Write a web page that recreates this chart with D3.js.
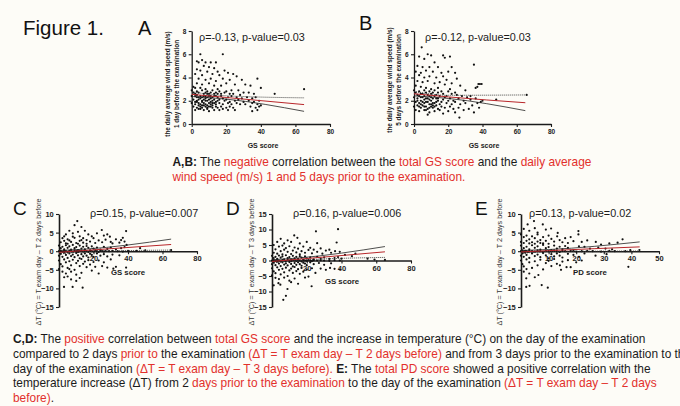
<!DOCTYPE html>
<html>
<head>
<meta charset="utf-8">
<script src="https://cdn.jsdelivr.net/npm/d3@7"></script>
<style>
  body { margin: 0; background: #fdfcf7; }
  svg { display: block; font-family: "Liberation Sans", Arial, sans-serif; }
</style>
</head>
<body>
<script>
// ---- data ----
// panel A: GS score vs wind speed 1 day before
var ptsA = [[5,6.0],[18,6.0],[3,5.4],[4,5.3],[6,5.5],[8,5.3],[11,5.3],[14,5.3],[7,5.0],[10,4.9],[13,4.8],[3,4.7],[5,4.6],[9,4.5],[15,4.5],[19,4.6],[21,4.4],[2,4.3],[6,4.2],[12,4.3],[16,4.2],[24,4.3],[26,4.1],[4,3.9],[8,3.8],[11,3.9],[14,3.7],[18,3.9],[22,3.8],[29,3.8],[38,3.9],[3,3.5],[6,3.4],[10,3.5],[13,3.3],[17,3.3],[20,3.5],[25,3.4],[31,3.4],[34,3.3],[40,3.1],[1,3.2],[2,3.1],[5,3.1],[8,3.0],[15,3.0],[23,2.9],[27,2.9],[33,2.7],[48,2.6],[65,3.0],[36,2.6],[30,2.7],
  [0,2.9],[3,2.8],[6,2.9],[9,2.8],[12,2.9],[16,2.8],[20,2.8],
  [1,2.7],[2,2.6],[4,2.7],[7,2.6],[8,2.7],[10,2.6],[11,2.7],[13,2.6],[14,2.7],[17,2.6],[19,2.7],[22,2.6],[24,2.6],[28,2.5],
  [0,2.4],[2,2.4],[3,2.3],[5,2.4],[6,2.3],[8,2.4],[9,2.3],[11,2.4],[12,2.3],[14,2.4],[15,2.3],[17,2.4],[18,2.2],[21,2.3],[23,2.4],[26,2.3],[29,2.2],[32,2.3],[35,2.2],[37,2.3],
  [1,2.1],[3,2.0],[4,2.1],[6,2.0],[7,2.1],[9,2.0],[10,2.1],[12,2.0],[13,2.1],[15,2.0],[16,2.1],[19,2.0],[20,2.1],[22,1.9],[25,2.0],[27,2.1],[30,1.9],[33,2.0],[36,1.9],[39,2.0],
  [0,1.8],[2,1.7],[4,1.8],[5,1.7],[7,1.8],[8,1.7],[10,1.8],[11,1.7],[13,1.8],[14,1.7],[16,1.8],[18,1.7],[21,1.8],[23,1.7],[26,1.8],[28,1.7],[31,1.7],[35,1.8],[38,1.7],[40,1.6],
  [1,1.5],[3,1.4],[5,1.5],[6,1.4],[8,1.5],[9,1.4],[11,1.5],[12,1.4],[14,1.5],[15,1.4],[17,1.5],[20,1.4],[22,1.5],[24,1.4],[34,1.5],[37,1.4],[39,1.5],
  [2,1.2],[4,1.3],[7,1.2],[9,1.3],[10,1.1],[13,1.2],[16,1.2],[18,1.3],[21,1.2],[25,1.2],[35,1.1],[38,1.2],
  [2,1.9],[3,2.5],[4,1.6],[5,2.2],[6,1.9],[7,2.4],[8,2.0],[9,1.6],[10,2.4],[11,1.9],[12,1.6],[13,2.4],[3,1.9],[5,1.3],[7,1.6],[9,2.6],[11,2.2],[12,1.8],[6,1.6],[8,2.2],[10,1.5],[4,2.3],[14,1.9],[15,2.6]];

// panel B: GS score vs wind speed 5 days before
var ptsB = [[4.5,6.6],[8,6.0],[10,5.9],[17,5.9],[18,5.7],[21,5.8],[35,5.1],[3,5.8],[6,5.6],[12,5.3],[2,5.0],[5,4.9],[9,4.9],[14,4.9],[22,4.9],[1,4.5],[4,4.4],[7,4.6],[11,4.5],[16,4.4],[20,4.5],[24,4.4],[3,4.2],[6,4.0],[9,4.1],[13,4.0],[17,4.1],[19,3.8],[25,3.9],[2,3.7],[5,3.6],[8,3.7],[12,3.5],[15,3.6],[18,3.4],[22,3.5],[27,3.3],[37.6,3.44],[38.5,3.44],[39.5,3.44],[37,3.2],[36,3.1],[1,3.3],[4,3.2],[7,3.1],[10,3.0],[14,3.1],[21,3.0],[30,2.9],[65.8,2.5],[48,2.1],[26.5,0.55],[33,2.4],[40,2.0],
  [0,2.9],[3,2.8],[6,2.9],[9,2.8],[12,2.9],[16,2.8],[20,2.8],[24,2.7],
  [1,2.7],[2,2.5],[4,2.6],[7,2.7],[8,2.5],[10,2.6],[11,2.7],[13,2.5],[14,2.7],[17,2.6],[19,2.4],[22,2.6],[25,2.5],[28,2.4],[31,2.3],
  [0,2.3],[2,2.2],[3,2.4],[5,2.3],[6,2.1],[8,2.2],[9,2.4],[11,2.2],[12,2.4],[14,2.2],[15,2.4],[17,2.1],[18,2.3],[21,2.2],[23,2.0],[26,2.2],[29,2.0],[33,2.1],[36,2.2],[39,1.9],
  [1,1.9],[3,1.8],[4,2.0],[6,1.8],[7,1.9],[9,1.7],[10,2.0],[12,1.8],[13,1.9],[15,1.7],[16,1.9],[19,1.8],[20,2.0],[22,1.7],[24,1.9],[27,1.7],[30,1.8],[34,1.6],[37,1.8],
  [0,1.5],[2,1.6],[4,1.4],[5,1.6],[7,1.5],[8,1.3],[10,1.5],[11,1.4],[13,1.6],[14,1.3],[16,1.5],[18,1.4],[21,1.5],[23,1.3],[26,1.4],[29,1.2],[32,1.3],[35,1.0],[38,1.4],
  [1,1.2],[3,1.1],[6,1.2],[9,1.0],[12,1.1],[15,1.2],[17,0.9],[20,1.1],[24,1.0],[8,0.8],
  [2,2.0],[3,1.5],[4,2.3],[5,1.9],[6,1.5],[7,2.2],[8,1.9],[9,1.4],[10,2.3],[11,1.8],[12,1.5],[13,2.2],[5,2.6],[7,1.2],[9,2.1],[11,1.6],[14,2.0],[4,1.7],[6,2.4],[10,1.7]];

// panel C: GS score vs dT (exam day - 2 days before)
var ptsC = [[10.6,8.1],[9,7.0],[13,6.5],[4,4.5],[6,5.5],[8,4.8],[11,5.2],[12,4.0],[15,5.5],[17,4.5],[14,3.5],[24.8,5.7],[22,4.8],[26,4.2],[29.5,3.9],[33,3.2],[36,3.0],[38.9,5.4],[37,3.6],[39.2,1.7],[2,3.5],[3,2.8],[5,3.2],[7,2.5],[9,3.6],[10,2.2],[12,2.8],[14,2.3],[16,3.0],[18,2.6],[20,3.5],[21,2.2],[23,2.9],[25,2.4],[27,3.1],[30,2.5],[31,2.1],[35,2.3],[38,2.6],[1,2.4],[4,2.1],[6,2.9],[8,3.9],[11,2.0],[13,3.0],[19,4.0],[28,4.5],[3,4.0],[5,2.0],[16,2.0],
  [0,1.5],[1,0.8],[2,1.2],[3,0.5],[4,1.6],[5,0.9],[6,1.3],[7,0.4],[8,1.7],[9,0.8],[10,1.1],[11,0.3],[12,1.5],[13,0.7],[14,1.2],[15,0.5],[16,1.4],[17,0.9],[18,0.2],[19,1.3],[20,0.7],[22,1.0],[24,0.4],[26,1.2],[28,0.6],[30,1.0],[33,0.5],[36,0.8],[38,1.1],
  [0,0],[1,0.1],[2,-0.1],[3,0.2],[4,0],[5,-0.2],[6,0.1],[7,0],[8,-0.1],[9,0.2],[10,0],[11,-0.2],[12,0.1],[13,0],[14,-0.1],[15,0.2],[16,0],[17,-0.2],[18,0.1],[19,0],[20,-0.1],[21,0.2],[22,0],[23,-0.2],[24,0.1],[25,0],[26,-0.1],[27,0.1],[29,0],[31,0.1],[34,0],[37,-0.1],[40,0.1],[47,0.8],[65,0.3],[45,0.1],[50,0.2],
  [0,-1.2],[1,-0.7],[2,-1.5],[3,-0.4],[4,-1.0],[5,-1.8],[6,-0.6],[7,-1.3],[8,-0.9],[9,-1.6],[10,-0.5],[11,-1.1],[12,-1.9],[13,-0.8],[14,-1.4],[15,-0.6],[16,-1.2],[17,-1.7],[18,-0.7],[19,-1.0],[20,-1.5],[22,-0.6],[24,-1.2],[26,-0.8],[28,-1.4],[31,-0.9],[35,-1.1],
  [0,-2.5],[1,-3.5],[2,-4.1],[3,-2.2],[4,-3.0],[5,-4.5],[6,-2.7],[7,-3.8],[8,-2.3],[9,-5.0],[10,-3.2],[11,-2.6],[12,-4.0],[13,-2.1],[14,-3.4],[15,-2.8],[16,-4.3],[17,-2.4],[18,-3.6],[20,-2.9],[21,-4.2],[23,-2.5],[25,-4.0],[26,-3.0],[28,-4.4],[31.5,-4.7],[33,-4.2],[38.9,-4.4],[30,-2.2],[2,-5.5],[4,-6.0],[7,-5.5],[10,-6.3],[13,-5.8],[19,-5.2],[23,-6.0],[0,-4.8],[6,-4.8],
  [7,-7.6],[3,-7.0],[10,-8.0],[2.9,-9.6],[7.9,-9.6],[13.7,-9.8],[5,-6.8],[12,-7.2]];

// panel D: GS score vs dT (exam day - 3 days before)
var ptsD = [[38,10.1],[25.3,9.4],[12.8,8.1],[14.6,7.3],[5,7.0],[9,6.5],[3,6.0],[7,5.5],[11,6.0],[16,5.5],[20,6.0],[26,5.6],[37.2,5.8],[36.3,3.0],[1,5.0],[4,4.5],[6,4.8],[8,4.0],[10,4.6],[13,4.2],[15,3.8],[18,4.5],[22,4.1],[24,3.5],[28,3.9],[31,3.2],[34,2.5],[39,2.8],[2,3.6],[5,3.0],[7,3.5],[9,2.8],[12,3.2],[14,2.6],[17,3.0],[19,2.5],[21,3.4],[23,2.3],[26,2.8],[29,2.2],[33,3.5],[1,2.5],[3,2.2],[6,2.0],[11,2.1],[16,2.0],[46,1.4],[42,1.8],[48,2.2],[55,0.6],[59,0.3],[65,0.2],
  [0,1.5],[1,0.8],[2,1.2],[3,0.5],[4,1.6],[5,0.9],[6,1.3],[7,0.4],[8,1.7],[9,0.8],[10,1.1],[11,0.3],[12,1.5],[13,0.7],[14,1.2],[15,0.5],[16,1.4],[17,0.9],[18,0.2],[19,1.3],[20,0.7],[22,1.0],[24,0.4],[26,1.2],[28,0.6],[30,1.0],[33,0.5],[36,0.8],[38,1.1],[40,0.6],
  [0,0],[1,0.1],[2,-0.2],[3,0.2],[4,0],[5,-0.3],[6,0.1],[7,0],[8,-0.2],[9,0.3],[10,0],[11,-0.2],[12,0.1],[13,0],[14,-0.1],[15,0.2],[16,0],[17,-0.3],[18,0.1],[19,0],[20,-0.1],[21,0.2],[22,0],[23,-0.2],[24,0.1],[26,0],[28,0.1],[30,0],[33,-0.1],[36,0.1],[39,0],
  [0,-1.2],[1,-0.7],[2,-1.5],[3,-0.4],[4,-1.0],[5,-1.8],[6,-0.6],[7,-1.3],[8,-0.9],[9,-1.6],[10,-0.5],[11,-1.1],[12,-1.9],[13,-0.8],[14,-1.4],[15,-0.6],[16,-1.2],[17,-1.7],[18,-0.7],[19,-1.0],[20,-1.5],[22,-0.6],[24,-1.2],[27,-0.8],[30,-1.4],[34,-0.9],
  [0,-2.5],[1,-3.5],[2,-4.1],[3,-2.2],[4,-3.0],[5,-4.5],[6,-2.7],[7,-3.8],[8,-2.3],[9,-5.0],[10,-3.2],[11,-2.6],[12,-4.0],[13,-2.1],[14,-3.4],[15,-2.8],[16,-4.3],[17,-2.4],[18,-3.6],[20,-2.9],[21,-5.2],[23,-2.5],[25,-4.0],[28,-2.6],[31,-3.0],[33.4,-2.4],[39,-2.9],[36,-2.7],[2,-5.6],[4,-6.0],[7,-5.5],[10,-6.5],[13,-5.8],[19,-5.5],[0,-4.8],
  [3.7,-7.3],[4.8,-7.8],[1,-8.0],[8.9,-9.2],[8,-11.4],[6.5,-12.7],[22.8,-8.3],[11,-7.0],[15,-7.5]];

// panel E: PD score vs dT (exam day - 2 days before)
var ptsE = [[4.7,8.1],[2.4,7.2],[7.9,7.2],[1,6.0],[3,5.5],[5,6.2],[6,5.0],[9,5.8],[10.9,6.1],[13.3,4.9],[13.1,4.0],[20.8,5.4],[20.8,4.5],[27.1,2.5],[36.8,3.2],[32,2.1],[0,4.5],[1,3.8],[2,4.2],[3,3.2],[4,4.0],[5,3.5],[6,4.5],[7,3.0],[8,3.8],[9,2.8],[10,4.2],[11,3.3],[12,2.6],[14,3.0],[15,2.4],[16,3.5],[17,2.2],[18,3.8],[19,2.7],[22,2.5],[24,2.9],[0,2.5],[1,2.2],[2,2.8],[3,2.1],[4,2.4],[5,2.0],[6,2.6],[7,2.2],[8,2.1],[10,2.0],[29,1.8],[35,2.3],
  [0,1.5],[1,0.8],[2,1.2],[3,0.5],[4,1.6],[5,0.9],[6,1.3],[7,0.4],[8,1.7],[9,0.8],[10,1.1],[11,0.3],[12,1.5],[13,0.7],[14,1.2],[15,0.5],[16,1.4],[17,0.9],[19,0.2],[21,1.3],[23,1.2],[25,0.7],[28,1.0],[30.6,0.7],[33,0.5],
  [0,0],[0.5,0.2],[1,-0.1],[1.5,0.1],[2,0],[2.5,-0.2],[3,0.1],[4,0],[5,-0.1],[6,0.2],[7,0],[8,-0.2],[9,0.1],[10,0],[11,-0.1],[12,0.2],[13,0],[14,-0.2],[15,0.1],[16,0],[18,0.1],[20,-0.1],[22,0],[24,0.1],[26,0],[29,-0.1],[32,0.1],[34,0],[37.8,0],[39.6,0.3],[42.9,0.3],
  [0,-1.2],[0.5,-0.6],[1,-1.5],[1.5,-0.4],[2,-1.0],[3,-1.8],[4,-0.6],[5,-1.3],[6,-0.9],[7,-1.6],[8,-0.5],[9,-1.1],[10,-1.9],[11,-0.8],[12,-1.4],[13,-0.6],[14,-1.2],[15,-1.7],[17,-0.7],[19,-1.0],[21,-1.5],[23,-0.6],[27,-1.2],[31,-0.8],
  [0,-2.5],[0.5,-3.5],[1,-4.1],[2,-2.2],[3,-3.0],[4,-4.5],[5,-2.7],[6,-3.8],[7,-2.3],[8,-4.9],[9,-3.2],[10,-2.6],[11,-4.0],[12,-2.1],[13,-3.4],[14.1,-3.8],[14.5,-5.0],[16.5,-4.3],[18,-4.3],[15,-2.8],[17,-2.4],[20,-3.0],[22,-2.5],[38.9,-4.2],[1,-5.5],[3,-6.0],[6.3,-6.4],[2,-4.8],
  [1.9,-7.3],[1.9,-9.6],[3.1,-9.3],[7.5,-9.1],[9.7,-9.8],[5,-7.0]];

// regression line with 95% band: [x, fit, lower, upper]
var fitA = [[0, 2.55, 2.36, 2.76], [20, 2.28, 2.14, 2.43], [65, 1.67, 1.09, 2.25]];
var fitB = [[0, 2.6, 2.42, 2.8], [20, 2.33, 2.2, 2.47], [65, 1.83, 1.15, 2.5]];
var fitC = [[0, -0.3, -0.8, 0.22], [15, 0.2, -0.12, 0.55], [65, 1.8, 0.3, 3.25]];
var fitD = [[0, -0.3, -0.85, 0.25], [15, 0.4, 0.05, 0.8], [65, 2.8, 1.0, 4.5]];
var fitE = [[0, -0.2, -0.6, 0.2], [10, 0.15, -0.1, 0.45], [43, 1.16, 0.05, 2.5]];

var ticksGS = [0, 20, 40, 60, 80];
var ticksPD = [0, 10, 20, 30, 40, 50];
var ticksWind = [0, 2, 4, 6, 8];
var ticksT10 = [-15, -10, -5, 0, 5, 10];
var ticksT15 = [-15, -10, -5, 0, 5, 10, 15];

var RED = "#e2302c", INK = "#1b1b1b";

var svg = d3.select("body").append("svg").attr("width", 680).attr("height", 406);
svg.append("rect").attr("width", 680).attr("height", 406).attr("fill", "#fdfcf7");

function panel(o) {
  var x = d3.scaleLinear().domain(o.xd).range(o.xr);
  var y = d3.scaleLinear().domain(o.yd).range(o.yr);
  var g = svg.append("g");

  var xa = g.append("g").attr("transform", "translate(0," + y(0) + ")")
    .call(d3.axisBottom(x).tickValues(o.xt).tickSize(3).tickSizeOuter(0)
      .tickFormat(function(d) { return (o.hideZero && d === 0) ? "" : d; }));
  var ya = g.append("g").attr("transform", "translate(" + x(0) + ",0)")
    .call(d3.axisLeft(y).tickValues(o.yt).tickSize(3).tickSizeOuter(0));
  [xa, ya].forEach(function(a) {
    a.select(".domain").attr("stroke", INK).attr("stroke-width", o.aw);
    a.selectAll(".tick line").attr("stroke", INK).attr("stroke-width", 1.1);
    a.selectAll("text").attr("font-size", o.tf).attr("font-weight", "bold")
      .attr("fill", INK).attr("font-family", "Liberation Sans, Arial, sans-serif");
  });
  xa.selectAll("text").attr("dy", "0.55em");
  ya.selectAll("text").attr("dx", "0.1em");

  g.append("g").selectAll("circle").data(o.pts).enter().append("circle")
    .attr("cx", function(d) { return x(d[0]); })
    .attr("cy", function(d) { return y(d[1]); })
    .attr("r", 1.1).attr("fill", "#111");

  function band(i) {
    return d3.line().curve(d3.curveMonotoneX)
      .x(function(d) { return x(d[0]); }).y(function(d) { return y(d[i]); })(o.fit);
  }
  g.append("path").attr("d", band(o.dotted === "hi" ? 2 : 3)).attr("fill", "none")
    .attr("stroke", "#222").attr("stroke-width", 0.8);
  g.append("path").attr("d", band(o.dotted === "hi" ? 3 : 2)).attr("fill", "none")
    .attr("stroke", "#333").attr("stroke-width", 0.9).attr("stroke-dasharray", "1,1");
  g.append("path").attr("d", band(1)).attr("fill", "none")
    .attr("stroke", "#b8262a").attr("stroke-width", 1);

  g.append("text").attr("x", o.xlab[0]).attr("y", o.xlab[1]).attr("text-anchor", "middle")
    .attr("font-size", o.lf).attr("font-weight", "bold").attr("fill", INK).text(o.xtitle);

  o.ytitle.forEach(function(t, i) {
    g.append("text")
      .attr("transform", "translate(" + (o.ylab[0] + i * 9) + "," + o.ylab[1] + ") rotate(-90)")
      .attr("text-anchor", "middle").attr("dominant-baseline", "central")
      .attr("font-size", o.yf).attr("font-weight", o.yw).attr("fill", o.yc).text(t);
  });

  g.append("text").attr("x", o.note[0]).attr("y", o.note[1]).attr("font-size", 10.8)
    .attr("fill", INK).text(o.noteText);
  g.append("text").attr("x", o.letter[0]).attr("y", o.letter[1]).attr("font-size", o.letterSize)
    .attr("fill", "#111").text(o.letterText);
}

svg.append("text").attr("x", 23).attr("y", 35).attr("font-size", 20.5).attr("fill", "#111").text("Figure 1.");

var windTitle1 = "the daily average wind speed (m/s)";
panel({ pts: ptsA, fit: fitA, dotted: "hi", aw: 1.3, xd: [0, 80], xr: [191.7, 330], yd: [0, 8], yr: [124, 31],
  xt: ticksGS, yt: ticksWind, tf: 6.5, lf: 7, xtitle: "GS score", xlab: [263, 147.5],
  ytitle: [windTitle1, "1 day before the examination"], ylab: [167, 84], yf: 6.4, yw: "bold", yc: INK,
  note: [199, 40.5], noteText: "\u03c1=-0.13, p-value=0.03", letter: [138, 35], letterText: "A", letterSize: 20 });
panel({ pts: ptsB, fit: fitB, dotted: "hi", aw: 1.3, xd: [0, 80], xr: [414, 551], yd: [0, 8], yr: [124, 31],
  xt: ticksGS, yt: ticksWind, tf: 6.5, lf: 7, xtitle: "GS score", xlab: [484, 147.5],
  ytitle: [windTitle1, "5 days before the examination"], ylab: [389.5, 80], yf: 6.4, yw: "bold", yc: INK,
  note: [425, 40.5], noteText: "\u03c1=-0.12, p-value=0.03", letter: [359, 30], letterText: "B", letterSize: 20 });
panel({ pts: ptsC, fit: fitC, dotted: "lo", aw: 1.6, hideZero: true, xd: [0, 80], xr: [59, 197], yd: [-15, 10], yr: [307, 214],
  xt: ticksGS, yt: ticksT10, tf: 7.5, lf: 7.8, xtitle: "GS score", xlab: [128, 275],
  ytitle: ["\u0394T (\u00b0C) = T exam day \u2013 T 2 days before"], ylab: [38, 262], yf: 7.2, yw: "normal", yc: "#333",
  note: [90, 216.5], noteText: "\u03c1=0.15, p-value=0.007", letter: [13, 215], letterText: "C", letterSize: 19 });
panel({ pts: ptsD, fit: fitD, dotted: "lo", aw: 1.6, hideZero: true, xd: [0, 80], xr: [272, 411], yd: [-15, 15], yr: [307, 214],
  xt: ticksGS, yt: ticksT15, tf: 7.5, lf: 7.8, xtitle: "GS score", xlab: [342, 284],
  ytitle: ["\u0394T (\u00b0C) = T exam day \u2013 T 3 days before"], ylab: [251, 262], yf: 7.2, yw: "normal", yc: "#333",
  note: [293, 216.5], noteText: "\u03c1=0.16, p-value=0.006", letter: [226, 215], letterText: "D", letterSize: 19 });
panel({ pts: ptsE, fit: fitE, dotted: "lo", aw: 1.6, hideZero: true, xd: [0, 50], xr: [521, 659], yd: [-15, 10], yr: [307, 214],
  xt: ticksPD, yt: ticksT10, tf: 7.5, lf: 7.8, xtitle: "PD score", xlab: [590, 275],
  ytitle: ["\u0394T (\u00b0C) = T exam day \u2013 T 2 days before"], ylab: [499, 262], yf: 7.2, yw: "normal", yc: "#333",
  note: [529, 216.5], noteText: "\u03c1=0.13, p-value=0.02", letter: [475, 215], letterText: "E", letterSize: 19 });

// captions: each line is a list of [text, style]  b = bold, r = red
function para(x, y0, step, lines) {
  lines.forEach(function(line, i) {
    var t = svg.append("text").attr("x", x).attr("y", y0 + i * step).attr("font-size", 11.9).attr("fill", INK);
    line.forEach(function(s) {
      t.append("tspan").attr("fill", s[1] === "r" ? RED : INK)
        .attr("font-weight", s[1] === "b" ? "bold" : "normal").text(s[0]);
    });
  });
}

para(172.5, 165.8, 15, [
  [["A,B:", "b"], [" The ", ""], ["negative", "r"], [" correlation between the ", ""], ["total GS score", "r"], [" and the ", ""], ["daily average", "r"]],
  [["wind speed (m/s) 1 and 5 days prior to the examination.", "r"]]
]);

para(13, 343.4, 14.6, [
  [["C,D:", "b"], [" The ", ""], ["positive", "r"], [" correlation between ", ""], ["total GS score", "r"], [" and the increase in temperature (\u00b0C) on the day of the examination", ""]],
  [["compared to 2 days ", ""], ["prior to", "r"], [" the examination ", ""], ["(\u0394T = T exam day \u2013 T 2 days before)", "r"], [" and from 3 days prior to the examination to the", ""]],
  [["day of the examination ", ""], ["(\u0394T = T exam day \u2013 T 3 days before).", "r"], [" ", ""], ["E:", "b"], [" The ", ""], ["total PD score", "r"], [" showed a positive correlation with the", ""]],
  [["temperature increase (\u0394T) from 2 ", ""], ["days prior to the examination", "r"], [" to the day of the examination ", ""], ["(\u0394T = T exam day \u2013 T 2 days", "r"]],
  [["before)", "r"], [".", ""]]
]);
</script>
</body>
</html>
